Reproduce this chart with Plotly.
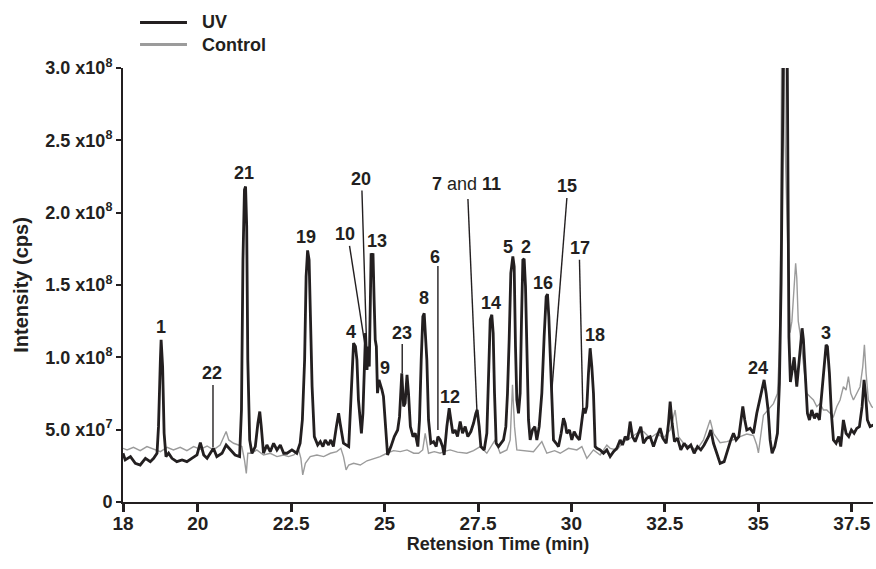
import plotly.graph_objects as go

# ---------------- data (intensity in units of 1e7 cps) ----------------
uv_time = [18.0, 18.06, 18.2, 18.33, 18.46, 18.6, 18.73, 18.82, 18.91, 18.95, 19.0, 19.02, 19.06, 19.1, 19.15,
           19.22, 19.31, 19.44, 19.58, 19.71, 19.84, 19.98, 20.07, 20.16, 20.25, 20.34, 20.42, 20.51, 20.65,
           20.76, 20.87, 21.0, 21.12, 21.17, 21.21, 21.25, 21.28, 21.31, 21.34, 21.39, 21.45, 21.54, 21.61,
           21.66, 21.7, 21.76, 21.85, 21.94, 22.03, 22.12, 22.21, 22.3, 22.39, 22.52, 22.65, 22.74, 22.8,
           22.86, 22.9, 22.94, 22.98, 23.01, 23.06, 23.12, 23.21, 23.28, 23.35, 23.41, 23.5, 23.56, 23.63,
           23.71, 23.77, 23.81, 23.9, 24.04, 24.1, 24.14, 24.17, 24.22, 24.26, 24.3, 24.38, 24.42, 24.46,
           24.49, 24.53, 24.56, 24.59, 24.63, 24.64, 24.67, 24.69, 24.72, 24.75, 24.78, 24.81, 24.85, 24.88,
           24.93, 24.97, 25.03, 25.08, 25.17, 25.26, 25.35, 25.4, 25.46, 25.51, 25.55, 25.6, 25.64, 25.69,
           25.76, 25.82, 25.89, 25.935, 25.98, 26.024, 26.06, 26.096, 26.131, 26.176, 26.238, 26.31, 26.381,
           26.426, 26.488, 26.551, 26.595, 26.666, 26.729, 26.774, 26.827, 26.889, 26.952, 27.023, 27.086,
           27.157, 27.228, 27.309, 27.38, 27.442, 27.478, 27.531, 27.576, 27.665, 27.736, 27.79, 27.826,
           27.87, 27.906, 27.942, 27.986, 28.049, 28.12, 28.182, 28.245, 28.289, 28.334, 28.378, 28.432,
           28.468, 28.503, 28.539, 28.584, 28.628, 28.664, 28.7, 28.735, 28.771, 28.807, 28.851, 28.896,
           28.958, 29.021, 29.074, 29.137, 29.208, 29.27, 29.324, 29.359, 29.395, 29.431, 29.475, 29.52,
           29.591, 29.654, 29.725, 29.787, 29.832, 29.877, 29.948, 30.01, 30.073, 30.144, 30.215, 30.278,
           30.322, 30.367, 30.412, 30.456, 30.501, 30.546, 30.59, 30.635, 30.68, 30.769, 30.858, 30.947,
           31.036, 31.126, 31.215, 31.304, 31.366, 31.438, 31.509, 31.571, 31.634, 31.705, 31.794, 31.857,
           31.928, 32.017, 32.107, 32.196, 32.285, 32.374, 32.445, 32.535, 32.597, 32.642, 32.695, 32.758,
           32.838, 32.927, 33.016, 33.105, 33.195, 33.284, 33.373, 33.462, 33.551, 33.667, 33.73, 33.801,
           33.89, 33.979, 34.086, 34.175, 34.265, 34.336, 34.407, 34.479, 34.532, 34.586, 34.639, 34.692,
           34.782, 34.871, 34.96, 35.049, 35.103, 35.156, 35.21, 35.263, 35.317, 35.37, 35.441, 35.513,
           35.566, 35.611, 35.646, 35.68, 35.77, 35.80, 35.82, 35.86, 35.92, 35.96, 36.03, 36.1, 36.173,
           36.208, 36.253, 36.315, 36.369, 36.431, 36.503, 36.565, 36.636, 36.699, 36.761, 36.815, 36.85,
           36.904, 36.957, 37.011, 37.082, 37.153, 37.207, 37.278, 37.35, 37.421, 37.492, 37.564, 37.635,
           37.706, 37.778, 37.831, 37.876, 37.92, 37.992, 38.081]
uv_intensity = [3.37, 2.91, 3.14, 2.68, 2.56, 3.02, 2.79, 3.02, 3.37, 5.21, 9.82, 11.21, 9.36, 4.75, 3.14,
                3.37, 3.02, 2.79, 2.91, 2.79, 3.02, 3.25, 4.11, 3.25, 3.02, 3.37, 3.71, 3.14, 3.37,
                3.94, 3.6, 3.25, 3.14, 6.36, 16.74, 21.58, 21.81, 19.05, 9.82, 4.29, 3.37, 3.83, 5.44,
                6.25, 5.21, 3.37, 3.94, 3.48, 4.06, 3.6, 3.94, 3.37, 3.37, 3.6, 3.37, 4.06, 5.67,
                9.82, 15.59, 17.39, 16.74, 13.28, 7.98, 4.52, 3.94, 4.17, 3.83, 4.29, 3.94, 4.29, 3.83,
                5.21, 6.13, 5.44, 4.06, 3.83, 7.52, 9.82, 10.98, 10.75, 9.82, 7.06, 4.75, 6.13, 9.36,
                11.67, 9.13, 10.75, 9.36, 15.82, 17.2, 16.74, 17.2, 13.97, 11.21, 10.75, 7.52, 8.44, 8.21,
                7.75, 7.29, 4.75, 3.25, 3.83, 4.52, 4.98, 5.9, 8.9, 6.6, 6.83, 8.79, 7.52, 5.21,
                4.52, 4.75, 3.83, 5.67, 9.82, 12.82, 13.05, 11.67, 9.82, 5.67, 4.06, 4.17, 3.83,
                4.52, 4.29, 3.83, 3.25, 5.21, 6.48, 5.67, 4.75, 4.98, 4.52, 5.56, 4.75,
                5.21, 4.52, 4.87, 5.44, 6.13, 6.37, 5.21, 3.83, 3.6, 4.75, 9.36, 12.59,
                12.94, 11.67, 7.52, 4.06, 3.83, 4.06, 4.29, 5.21, 7.52, 11.21, 15.82, 16.97,
                16.28, 10.75, 7.06, 6.13, 7.52, 12.59, 16.74, 16.81, 14.9, 10.75, 5.67, 4.29,
                4.98, 5.21, 4.29, 5.21, 7.52, 11.44, 14.2, 14.37, 12.82, 10.29, 7.06, 4.29,
                4.06, 3.83, 4.75, 5.79, 5.44, 4.75, 4.98, 4.29, 4.87, 4.52, 4.29, 5.67,
                6.48, 6.13, 6.6, 8.9, 10.63, 9.36, 7.52, 3.83, 3.71, 3.6, 3.37, 3.6,
                3.14, 3.48, 3.71, 4.29, 3.94, 4.52, 4.29, 5.56, 4.52, 4.17, 4.87, 5.21,
                4.06, 4.41, 4.52, 3.83, 4.52, 5.1, 4.41, 4.06, 5.44, 6.94, 5.44, 4.17,
                4.41, 3.6, 4.06, 3.71, 3.94, 3.37, 3.83, 3.6, 3.94, 4.52, 4.98, 4.06,
                3.37, 2.67, 2.79, 3.6, 4.29, 4.75, 4.29, 4.52, 5.67, 6.6, 5.67, 4.98,
                5.1, 4.75, 6.13, 7.29, 7.98, 8.44, 7.52, 6.36, 4.29, 3.37, 3.83, 4.75,
                8.21, 15.12, 24.35, 33.0, 33.0, 17.0, 11.4, 8.3, 9.4, 10.0, 7.97, 9.82, 12.01,
                11.2, 8.9, 6.13, 5.67, 6.36, 5.78, 6.13, 5.67, 7.51, 9.82, 10.86, 10.74,
                8.9, 6.13, 4.29, 4.06, 4.52, 3.83, 5.67, 4.75, 4.52, 4.98, 4.75, 5.09,
                5.21, 6.59, 8.44, 7.28, 5.67, 5.21, 5.32]

ctrl_time = [18.0, 18.11, 18.28, 18.46, 18.64, 18.82, 19.0, 19.18, 19.35, 19.53, 19.71, 19.89, 20.07, 20.25,
             20.42, 20.6, 20.69, 20.76, 20.83, 20.96, 21.09, 21.18, 21.25, 21.3, 21.34, 21.45, 21.58, 21.76,
             21.94, 22.12, 22.3, 22.43, 22.57, 22.7, 22.76, 22.81, 22.88, 23.01, 23.19, 23.37, 23.55, 23.72,
             23.83, 23.9, 23.97, 24.04, 24.17, 24.35, 24.53, 24.71, 24.88, 25.06, 25.24, 25.42, 25.6, 25.78,
             25.91, 26.02, 26.087, 26.176, 26.33, 26.488, 26.6, 26.756, 26.95, 27.2, 27.38, 27.558, 27.736,
             27.959, 28.093, 28.272, 28.361, 28.423, 28.477, 28.539, 28.75, 28.985, 29.208, 29.342, 29.55,
             29.7, 29.92, 30.145, 30.279, 30.412, 30.59, 30.769, 30.947, 31.036, 31.215, 31.393, 31.571,
             31.75, 31.928, 32.107, 32.285, 32.463, 32.642, 32.775, 32.865, 32.998, 33.177, 33.355, 33.533,
             33.712, 33.801, 33.979, 34.158, 34.336, 34.514, 34.692, 34.871, 34.96, 35.004, 35.06, 35.138,
             35.272, 35.406, 35.513, 35.566, 35.6, 35.63, 35.70, 35.72, 35.76, 35.80, 35.85, 35.9, 35.95,
             36.0, 36.03, 36.07, 36.119, 36.208, 36.297, 36.387, 36.476, 36.565, 36.654, 36.743, 36.833,
             36.922, 37.011, 37.1, 37.189, 37.278, 37.35, 37.412, 37.475, 37.546, 37.635, 37.724, 37.796,
             37.84, 37.885, 37.947, 38.036, 38.1]
ctrl_intensity = [3.71, 3.6, 3.78, 3.55, 3.83, 3.64, 3.48, 3.78, 3.6, 3.78, 3.55, 3.83, 3.64, 3.87,
                  3.6, 3.94, 4.52, 4.87, 4.29, 4.06, 3.94, 3.83, 2.91, 1.98, 3.37, 3.37, 3.6, 3.25,
                  3.37, 3.14, 3.25, 3.14, 3.25, 3.6, 3.02, 1.87, 2.68, 3.14, 3.25, 3.14, 3.37, 3.48,
                  3.71, 3.14, 2.22, 2.56, 2.68, 2.56, 2.85, 3.02, 3.14, 3.37, 3.55, 3.48, 3.6, 3.37,
                  3.37, 3.6, 4.75, 3.37, 3.48, 3.37, 3.5, 3.6, 3.45, 3.37, 3.55, 3.83, 3.37,
                  4.29, 3.37, 3.6, 4.29, 8.1, 5.21, 3.6, 3.55, 3.48, 4.17, 3.37, 3.55,
                  3.37, 3.71, 3.6, 3.83, 3.02, 3.6, 3.25, 3.94, 3.71, 3.6, 4.17, 4.41,
                  4.75, 4.87, 4.41, 4.75, 4.41, 4.98, 6.36, 4.52, 4.06, 3.83, 3.6, 4.29,
                  5.67, 4.75, 4.1, 4.17, 4.3, 4.52, 4.7, 4.6, 3.94, 3.4, 4.5, 6.0,
                  6.4, 6.8, 7.5, 10.5, 18.0, 33.0, 33.0, 24.7, 20.5, 17.0, 11.7, 12.5, 15.0,
                  16.5, 15.5, 12.5, 11.66, 9.36, 7.51, 7.28, 7.05, 6.59, 6.82, 6.36, 6.36,
                  6.13, 5.9, 6.59, 7.05, 7.97, 7.74, 8.67, 7.51, 7.05, 7.51, 7.97, 9.36,
                  10.86, 8.9, 7.05, 6.59, 6.48]

x_tick_vals = [18, 20, 22.5, 25, 27.5, 30, 32.5, 35, 37.5]
x_tick_text = ["18", "20", "22.5", "25", "27.5", "30", "32.5", "35", "37.5"]
y_tick_vals = [0, 5, 10, 15, 20, 25, 30]
y_tick_text = ["0", "5.0 x10<sup>7</sup>", "1.0 x10<sup>8</sup>", "1.5 x10<sup>8</sup>",
               "2.0 x10<sup>8</sup>", "2.5 x10<sup>8</sup>", "3.0 x10<sup>8</sup>"]

series_names = ["UV", "Control"]

# peak labels (text, retention time, intensity)
peak_labels = ["1", "22", "21", "19", "10", "20", "13", "4", "9", "23", "6", "8", "12",
               "<b>7</b> and <b>11</b>", "14", "5", "2", "16", "15", "17", "18", "24", "3"]
peak_label_x = [19.02, 20.38, 21.25, 22.90, 23.95, 24.37, 24.80, 24.11, 25.02, 25.46, 26.36, 26.06, 26.74,
                27.18, 27.85, 28.29, 28.78, 29.25, 29.88, 30.23, 30.64, 35.0, 36.81]
peak_label_y = [12.13, 8.90, 22.74, 18.31, 18.54, 22.32, 18.07, 11.78, 9.25, 11.67, 16.97, 14.09, 7.28,
                22.0, 13.74, 17.66, 17.62, 15.13, 21.81, 17.55, 11.55, 9.25, 11.71]
# leader lines (x0, y0, x1, y1)
leaders = [(20.408, 8.09, 20.408, 3.80), (24.062, 17.71, 24.482, 10.74), (24.394, 21.53, 24.509, 11.67),
           (25.472, 10.93, 25.472, 8.92), (26.427, 16.32, 26.427, 4.98), (27.230, 20.94, 27.470, 6.36),
           (29.878, 21.01, 29.477, 7.75), (30.215, 16.74, 30.306, 6.36)]

INK = "#231f20"
GREY = "#9b9b9b"
FONT = "Liberation Sans, Arial, sans-serif"

fig = go.Figure()
fig.add_trace(go.Scatter(x=ctrl_time, y=ctrl_intensity, mode="lines", name=series_names[1],
                         line=dict(color=GREY, width=1.4), showlegend=False))
fig.add_trace(go.Scatter(x=uv_time, y=uv_intensity, mode="lines", name=series_names[0],
                         line=dict(color=INK, width=2.8), showlegend=False))

for t, x, y in zip(peak_labels, peak_label_x, peak_label_y):
    bold = "and" not in t
    fig.add_annotation(x=x, y=y, xref="x", yref="y", text=t, showarrow=False,
                       xanchor="center", yanchor="middle",
                       font=dict(family=FONT, size=18, color=INK,
                                 weight="bold" if bold else "normal"))

for x0, y0, x1, y1 in leaders:
    fig.add_shape(type="line", xref="x", yref="y", x0=x0, y0=y0, x1=x1, y1=y1,
                  line=dict(color=INK, width=1.4))

# legend (drawn in paper coordinates above the plot)
for name, color, ly in zip(series_names, [INK, GREY], [1.105, 1.054]):
    fig.add_shape(type="line", xref="paper", yref="paper", x0=0.0227, x1=0.0853, y0=ly, y1=ly,
                  line=dict(color=color, width=3))
    fig.add_annotation(x=0.1027, y=ly, xref="paper", yref="paper", text=name, showarrow=False,
                       xanchor="left", yanchor="middle",
                       font=dict(family=FONT, size=18, color=INK, weight="bold"))

fig.update_layout(
    width=876, height=569,
    margin=dict(l=123, r=3, t=68, b=67),
    paper_bgcolor="white", plot_bgcolor="white",
    font=dict(family=FONT, color=INK),
    showlegend=False,
    xaxis=dict(range=[18, 38.07], tickvals=x_tick_vals, ticktext=x_tick_text, automargin=False,
               showline=True, linewidth=2, linecolor=INK, ticks="outside", ticklen=8,
               tickwidth=2.5, tickcolor=INK, showgrid=False, zeroline=False, ticklabelstandoff=-5,
               tickfont=dict(family=FONT, size=19, color=INK, weight="bold"),
               title=dict(text="Retension Time (min)", standoff=3,
                          font=dict(family=FONT, size=18, color=INK, weight="bold"))),
    yaxis=dict(range=[0, 30], tickvals=y_tick_vals, ticktext=y_tick_text, automargin=False,
               showline=True, linewidth=2, linecolor=INK, ticks="outside", ticklen=5,
               tickwidth=1.5, tickcolor=INK, showgrid=False, zeroline=False,
               tickfont=dict(family=FONT, size=18, color=INK, weight="bold"),
               title=dict(text="Intensity (cps)", standoff=11,
                          font=dict(family=FONT, size=20, color=INK, weight="bold"))),
)

fig.write_html("out.html", config={"displayModeBar": False},
               post_script="document.body.style.margin='0';")
